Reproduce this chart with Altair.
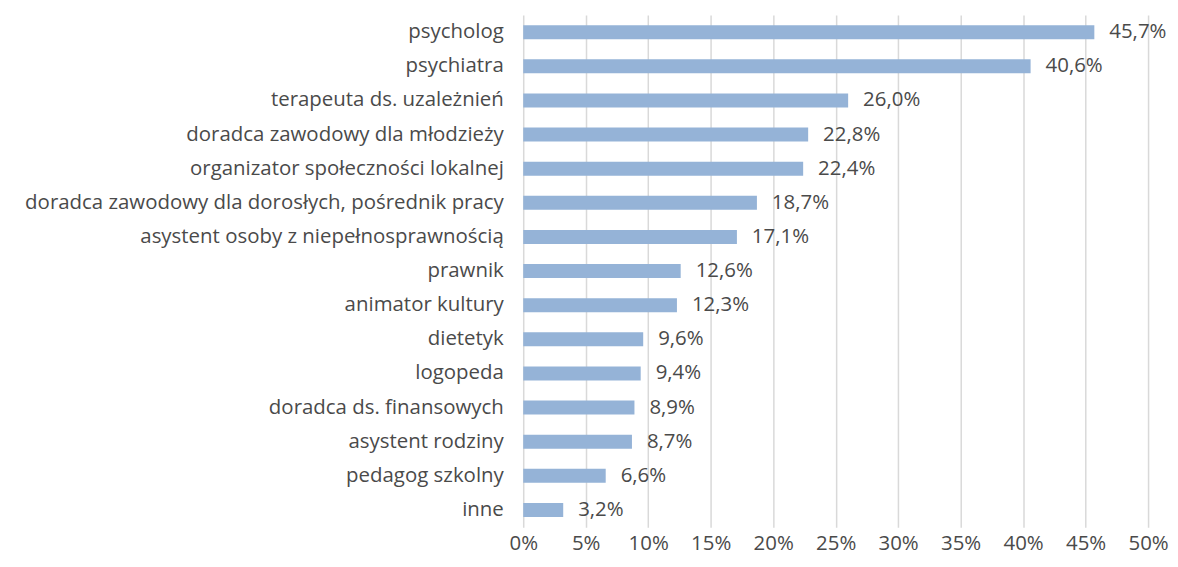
import altair as alt
import pandas as pd

categories = [
    "psycholog", "psychiatra", "terapeuta ds. uzależnień",
    "doradca zawodowy dla młodzieży", "organizator społeczności lokalnej",
    "doradca zawodowy dla dorosłych, pośrednik pracy",
    "asystent osoby z niepełnosprawnością", "prawnik", "animator kultury",
    "dietetyk", "logopeda", "doradca ds. finansowych", "asystent rodziny",
    "pedagog szkolny", "inne",
]
values = [45.7, 40.6, 26.0, 22.8, 22.4, 18.7, 17.1, 12.6, 12.3, 9.6, 9.4, 8.9, 8.7, 6.6, 3.2]
x_ticks = [0, 5, 10, 15, 20, 25, 30, 35, 40, 45, 50]

df = pd.DataFrame({"cat": categories, "v": values})

FONT = "Open Sans"
TXT = "#4a4a4a"
FS = 20.5

y = alt.Y("cat:N", sort=categories, title=None,
          scale=alt.Scale(paddingInner=0.59, paddingOuter=0.3),
          axis=alt.Axis(labelFontSize=FS, labelColor=TXT, labelFont=FONT,
                        labelLimit=600, labelPadding=20, ticks=False, domain=False))

x = alt.X("v:Q", title=None,
          scale=alt.Scale(domain=[0, 50], nice=False),
          axis=alt.Axis(values=x_ticks, labelExpr="datum.value + '%'",
                        labelFontSize=FS, labelColor=TXT, labelFont=FONT,
                        labelFlush=False, labelOverlap=False,
                        labelPadding=6, ticks=False, domain=False,
                        grid=True, gridColor="#D9D9D9", gridWidth=1.5))

bars = alt.Chart(df).mark_bar(color="#95B3D7", size=14).encode(x=x, y=y)

labels = alt.Chart(df).transform_calculate(
    lbl="replace(format(datum.v, '.1f'), '.', ',') + '%'"
).mark_text(align="left", baseline="middle", dx=15, fontSize=FS,
            font=FONT, color=TXT).encode(x=x, y=y, text="lbl:N")

chart = (bars + labels).properties(
    width=627, height=514,
    autosize=alt.AutoSizeParams(type="none"),
    padding={"left": 517, "top": 6, "right": 22, "bottom": 31},
).configure_view(stroke=None)

chart.save("out.html", embed_options={"renderer": "svg", "actions": False})
